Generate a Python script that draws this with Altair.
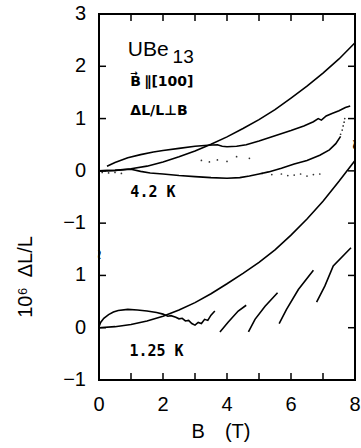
import altair as alt
import pandas as pd

# ---------------- data ----------------
# upper panel (4.2 K): values in units of 1e-6, plotted shifted by +3
UPPER_SHIFT = 3

a_B = [0, 0.5, 1, 1.5, 2, 2.5, 3, 3.5, 4, 4.5, 5, 5.5, 6, 6.5, 7, 7.5, 8]
a_V = [0, 0.01, 0.04, 0.09, 0.17, 0.27, 0.38, 0.51, 0.65, 0.81, 0.98, 1.17, 1.39, 1.62, 1.87, 2.14, 2.45]

b_B = [0.25, 0.5, 0.9, 1.3, 1.7, 2.0, 2.5, 3.0, 3.4, 3.7, 3.85, 4.0, 4.3, 4.6, 5.0, 5.5, 6.0, 6.4, 6.7, 6.85, 6.95, 7.1, 7.3, 7.5, 7.7, 7.85]
b_V = [0.09, 0.16, 0.25, 0.31, 0.36, 0.39, 0.43, 0.47, 0.49, 0.5, 0.47, 0.46, 0.47, 0.5, 0.57, 0.67, 0.77, 0.86, 0.94, 1.0, 0.97, 1.05, 1.1, 1.15, 1.21, 1.24]

c_B = [0, 0.5, 1.0, 1.3, 1.6, 2.0, 2.5, 3.0, 3.5, 4.0, 4.4, 4.7, 5.0, 5.3, 5.7, 6.1, 6.5, 6.9, 7.2, 7.4, 7.55]
c_V = [0, 0.01, 0.03, -0.01, -0.04, -0.06, -0.09, -0.11, -0.13, -0.14, -0.13, -0.1, -0.06, -0.02, 0.05, 0.13, 0.2, 0.3, 0.4, 0.52, 0.66]

dots_B = [0.1, 0.3, 0.5, 0.7, 3.2, 3.45, 3.7, 4.0, 4.3, 4.7, 5.1, 5.4, 5.7, 5.9, 6.1, 6.3, 6.5, 6.7, 6.9, 7.55, 7.6, 7.63, 7.66, 7.68]
dots_V = [-0.03, -0.04, -0.03, -0.05, 0.2, 0.17, 0.21, 0.18, 0.27, 0.24, -0.05, -0.07, -0.06, -0.09, -0.08, -0.06, -0.1, -0.07, -0.06, 0.7, 0.78, 0.86, 0.93, 1.0]

# lower panel (1.25 K)
e_B = [0, 0.5, 1, 1.5, 2, 2.5, 3, 3.5, 4, 4.5, 5, 5.5, 6, 6.5, 7, 7.5, 8]
e_V = [0, 0.02, 0.06, 0.13, 0.22, 0.34, 0.48, 0.65, 0.84, 1.04, 1.25, 1.49, 1.77, 2.08, 2.42, 2.8, 3.2]

f0_B = [0, 0.05, 0.15, 0.3, 0.45, 0.6, 0.9, 1.2, 1.5, 1.8, 2.0, 2.15, 2.25, 2.4, 2.5, 2.6, 2.7, 2.8, 2.9, 3.0, 3.1, 3.2, 3.3, 3.4, 3.5, 3.62]
f0_V = [0.02, 0.1, 0.18, 0.25, 0.3, 0.33, 0.35, 0.34, 0.32, 0.29, 0.26, 0.22, 0.23, 0.2, 0.17, 0.18, 0.13, 0.14, 0.08, 0.05, 0.1, 0.08, 0.16, 0.14, 0.24, 0.32]
f1_B = [3.78, 4.04, 4.35, 4.6]
f1_V = [-0.08, 0.11, 0.32, 0.43]
f2_B = [4.67, 4.875, 5.19, 5.58]
f2_V = [-0.08, 0.16, 0.41, 0.67]
f3_B = [5.63, 5.86, 6.23, 6.7]
f3_V = [0.08, 0.35, 0.73, 1.1]
f4_B = [6.8, 7.06, 7.32, 7.875]
f4_V = [0.49, 0.8, 1.18, 1.53]

# axis ticks / labels (plot coordinate -> printed label; break between 1 and 2)
y_tick_values = [-1, 0, 1, 2, 3, 4, 5, 6]
y_tick_labels = ["−1", "0", "1", "−1", "0", "1", "2", "3"]
x_label_values = [0, 2, 4, 6, 8]
x_label_texts = ["0", "2", "4", "6", "8"]
x_tick_values = [1, 2, 3, 4, 5, 6, 7]

# frame corners (scale extremes)
X_MIN, X_MAX = 0, 8
Y_MIN, Y_MAX = -1, 6

# ---------------- tables ----------------
rows = []
def add(series, bs, vs, shift):
    for b, v in zip(bs, vs):
        rows.append({"B": b, "y": v + shift, "series": series})

add("A", a_B, a_V, UPPER_SHIFT)
add("Bw", b_B, b_V, UPPER_SHIFT)
add("C", c_B, c_V, UPPER_SHIFT)
add("E", e_B, e_V, 0)
add("F0", f0_B, f0_V, 0)
add("F1", f1_B, f1_V, 0)
add("F2", f2_B, f2_V, 0)
add("F3", f3_B, f3_V, 0)
add("F4", f4_B, f4_V, 0)
lines_df = pd.DataFrame(rows)

W, H = 256, 366
PX_X = W / (X_MAX - X_MIN)   # pixels per tesla
PX_Y = H / (Y_MAX - Y_MIN)   # pixels per unit
TL = 7  # tick length in px

dots_df = pd.DataFrame({"B": dots_B, "y": [v + UPPER_SHIFT for v in dots_V]})
xt_df = pd.DataFrame({"B": x_tick_values})
yt_df = pd.DataFrame({"y": y_tick_values, "t": y_tick_labels})
xl_df = pd.DataFrame({"B": x_label_values, "t": x_label_texts,
                      "y": [Y_MIN - 25 / PX_Y] * len(x_label_values)})
yl_df = pd.DataFrame({"y": y_tick_values, "t": y_tick_labels,
                      "B": [X_MIN - 13 / PX_X] * len(y_tick_values)})
frame_df = pd.DataFrame({"B": [X_MIN, X_MAX, X_MAX, X_MIN, X_MIN],
                         "y": [Y_MIN, Y_MIN, Y_MAX, Y_MAX, Y_MIN],
                         "i": [0, 1, 2, 3, 4]})

xs = alt.Scale(domain=[X_MIN, X_MAX], nice=False, zero=False)
ys = alt.Scale(domain=[Y_MIN, Y_MAX], nice=False, zero=False)
FONT = "Liberation Sans"

def X(field="B"):
    return alt.X(f"{field}:Q", scale=xs, axis=None)

def Y(field="y"):
    return alt.Y(f"{field}:Q", scale=ys, axis=None)

lines = alt.Chart(lines_df).mark_line(color="black", strokeWidth=1.6).encode(
    x=X(), y=Y(), detail="series:N",
)

dots = alt.Chart(dots_df).mark_circle(size=3, color="black", opacity=0.8).encode(x=X(), y=Y())

frame = alt.Chart(frame_df).mark_line(color="black", strokeWidth=2).encode(
    x=X(), y=Y(), order=alt.Order("i:Q"))

# inward ticks on all four sides
tick_bottom = alt.Chart(xt_df).mark_rule(color="black", strokeWidth=1.5).encode(
    x=X(), y=alt.value(H), y2=alt.value(H - TL))
tick_top = alt.Chart(xt_df).mark_rule(color="black", strokeWidth=1.5).encode(
    x=X(), y=alt.value(0), y2=alt.value(TL))
tick_left = alt.Chart(yt_df).mark_rule(color="black", strokeWidth=1.5).encode(
    y=Y(), x=alt.value(0), x2=alt.value(TL))
tick_right = alt.Chart(yt_df).mark_rule(color="black", strokeWidth=1.5).encode(
    y=Y(), x=alt.value(W), x2=alt.value(W - TL))

# tick labels
x_labels = alt.Chart(xl_df).mark_text(font=FONT, fontSize=20, color="black", align="center",
                                      baseline="middle").encode(x=X(), y=Y(), text="t:N")
y_labels = alt.Chart(yl_df).mark_text(font=FONT, fontSize=20, color="black", align="right",
                                      baseline="middle").encode(x=X(), y=Y(), text="t:N")

def label(txt, b, y, size, weight="normal", font=FONT, align="left", baseline="alphabetic", angle=0):
    d = pd.DataFrame({"B": [b], "y": [y], "t": [txt]})
    return alt.Chart(d).mark_text(font=font, fontSize=size, fontWeight=weight, color="black",
                                  align=align, baseline=baseline, angle=angle).encode(
        x=X(), y=Y(), text="t:N",
    )

# axis titles (placed outside the plot area in scale units)
x_title = label("B\u2003(T)", X_MIN + 122 / PX_X, Y_MIN - 52 / PX_Y, 20,
                align="center", baseline="middle")
y_title = label("10⁶\u2002ΔL/L", X_MIN - 73 / PX_X, Y_MAX - 263 / PX_Y, 20,
                align="center", baseline="middle", angle=270)

texts = [
    label("UBe", 0.9, 5.2, 21),
    label("13", 2.3, 5.07, 19),
    label("B", 0.98, 4.62, 14, "bold", "DejaVu Sans"),
    label("→", 0.98, 4.82, 9, "bold", "DejaVu Sans"),
    label("∥[100]", 1.42, 4.62, 14, "bold", "DejaVu Sans"),
    label("ΔL/L⊥B", 0.98, 4.07, 14, "bold", "DejaVu Sans"),
    label("4.2 K", 0.98, 2.5, 15, "bold", "DejaVu Sans Mono"),
    label("1.25 K", 0.95, -0.55, 15, "bold", "DejaVu Sans Mono"),
]

brk_df = pd.DataFrame({"B": [0, 7.97], "y": [1.4, 3.5], "t": ["~", "~"]})
breaks = alt.Chart(brk_df).mark_text(fontSize=14, fontWeight="bold", color="black",
                                     angle=90, font="DejaVu Sans", baseline="middle",
                                     align="center").encode(
    x=X(), y=Y(), text="t:N",
)

chart = alt.layer(frame, lines, dots, tick_bottom, tick_top, tick_left, tick_right,
                  x_labels, y_labels, x_title, y_title, breaks, *texts).properties(
    width=W, height=H,
    autosize=alt.AutoSizeParams(type="none"),
    padding={"left": 99, "top": 14, "right": 6, "bottom": 68},
    background="white",
).configure_view(stroke="black", strokeWidth=2)

chart.save("out.html", embed_options={"renderer": "svg", "actions": False})
